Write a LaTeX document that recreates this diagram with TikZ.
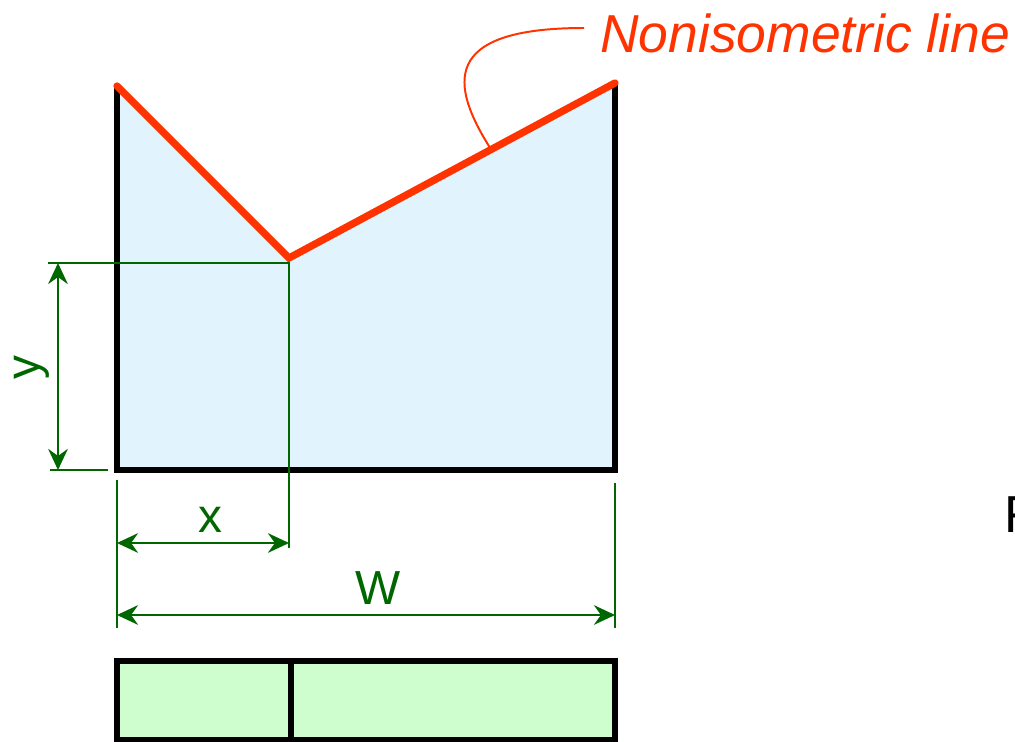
\documentclass[tikz,border=0pt]{standalone}
\usepackage{fontspec}
\setmainfont{Liberation Sans}
\usetikzlibrary{arrows.meta,positioning}
\definecolor{dimgreen}{HTML}{006600}
\definecolor{nonred}{HTML}{FF3300}
\definecolor{faceblue}{HTML}{E1F3FD}
\definecolor{topgreen}{HTML}{CEFDCE}
\tikzset{
  outline/.style={
    draw=black,
    line width=3.6pt,
    line join=miter
  },
  nonline/.style={
    draw=nonred,
    line width=5.2pt,
    line cap=round
  },
  dimline/.style={
    draw=dimgreen,
    line width=1.5pt
  },
  dimarrow/.style={
    dimline,
    {Stealth[length=15pt,width=14pt,inset=5pt]}-{Stealth[length=15pt,width=14pt,inset=5pt]}
  },
  dimlabel/.style={
    text=dimgreen,
    font=\fontsize{34}{40}\selectfont,
    inner sep=0pt
  },
}

\begin{document}
\begin{tikzpicture}[x=0.025cm,y=-0.025cm]
\useasboundingbox (0,0) rectangle (1015,742);
% front view corners
\coordinate (tl) at (117,86);
\coordinate (bl) at (117,470);
\coordinate (br) at (615,470);
\coordinate (tr) at (615,83);
\coordinate (v) at (289,258);
\fill[faceblue] (tl) -- (v) -- (tr) -- (br) -- (bl) -- cycle;
\draw[outline] (tl) -- (bl) -- (br) -- (tr);
\draw[nonline] (tl) -- (v) -- (tr) coordinate[pos=0.62] (lead);
% dimensions
\coordinate (ey1) at (48,263);
\coordinate (ey2) at (289,263);
\coordinate (ey3) at (50,470);
\coordinate (ey4) at (108,470);
\draw[dimline] (ey1) -- (ey2) -- (289,548);
\draw[dimline] (ey3) -- (ey4);
\draw[dimline] (117,480) -- (117,628);
\draw[dimline] (615,483) -- (615,628);
\draw[dimarrow] (58,263) -- (58,470);
\draw[dimarrow] (117,543) -- (289,543);
\draw[dimarrow] (117,615) -- (615,615);
\node[dimlabel, rotate=90] (ylab) at (32,368) {y};
\node[dimlabel] (xlab) at (210,520) {x};
\node[dimlabel] (wlab) at (378,588) {W};
% label
\node[anchor=west, text=nonred, inner sep=0pt,
      font=\fontsize{38}{44}\selectfont\itshape] (nonlab) at (600,33) {Nonisometric line};
\draw[nonred, line width=1.4pt] (nonlab.west) ++(-16,-5) .. controls (440,28) and (450,85) .. (lead);
% top view
\coordinate (gtl) at (117,661);
\coordinate (gbr) at (615,740);
\draw[fill=topgreen, draw=black, line width=4pt] (gtl) rectangle (gbr);
\draw[black, line width=4pt] (291,661) -- (291,740);
\node[anchor=west, inner sep=0pt, font=\fontsize{37}{42}\selectfont] (flab) at (1004,515) {F};
\end{tikzpicture}
\end{document}
